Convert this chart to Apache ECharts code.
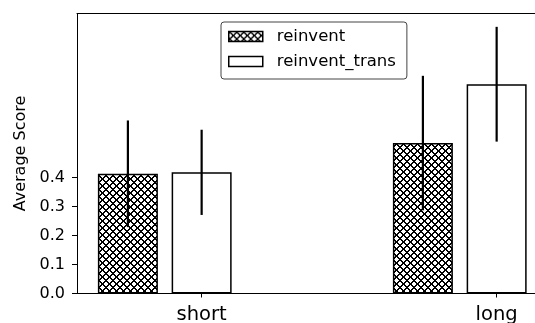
<!DOCTYPE html>
<html>
<head>
<meta charset="utf-8">
<script src="https://cdn.jsdelivr.net/npm/echarts@6/dist/echarts.min.js"></script>
<style>
  html, body { margin: 0; padding: 0; background: #fff; }
  #chart { width: 535px; height: 323px; }
</style>
</head>
<body>
<div id="chart"></div>
<script>
// Average score per prompt length, two model variants
const categories = ['short', 'long'];
const reinventMean = [0.413, 0.519];
const reinventErr = [0.184, 0.232];
const transMean = [0.418, 0.722];
const transErr = [0.147, 0.198];
const yTicks = [0.0, 0.1, 0.2, 0.3, 0.4];
const seriesNames = ['reinvent', 'reinvent_trans'];

const FONT = 'DejaVu Sans';
const BAR_OFFSET = 0.25; // reinvent bar sits left of each category tick
const X_MIN = -0.4225;
const X_MAX = 1.13;      // plot runs off the right edge of the canvas

// crisp crosshatch tile (2px diagonals both ways) for the reinvent bars
function makeHatch() {
  const n = 7;
  const c = document.createElement('canvas');
  c.width = n; c.height = n;
  const ctx = c.getContext('2d');
  const img = ctx.createImageData(n, n);
  for (let y = 0; y < n; y++) {
    for (let x = 0; x < n; x++) {
      const a = (x + y) % n;
      const b = ((x - y) % n + n) % n;
      const ink = a <= 1 || b <= 1;
      const v = ink ? 0 : 255;
      const k = (y * n + x) * 4;
      img.data[k] = v; img.data[k + 1] = v; img.data[k + 2] = v; img.data[k + 3] = 255;
    }
  }
  ctx.putImageData(img, 0, 0);
  return c;
}
const hatch = { image: makeHatch(), repeat: 'repeat' };

const reinventData = categories.map((c, i) => [i - BAR_OFFSET, reinventMean[i]]);
const transData = categories.map((c, i) => [i, transMean[i]]);
const errData = categories.map((c, i) => [i - BAR_OFFSET, reinventMean[i], reinventErr[i]])
  .concat(categories.map((c, i) => [i, transMean[i], transErr[i]]));

const yMax = Math.max(...errData.map(d => d[1] + d[2])) * 1.05;

const chart = echarts.init(document.getElementById('chart'), null, { renderer: 'canvas' });
chart.setOption({
  animation: false,
  backgroundColor: '#fff',
  textStyle: { fontFamily: FONT, color: '#000' },
  grid: { left: 77, top: 13.5, right: 0, height: 280, show: false, outerBoundsMode: 'none', containLabel: false },
  legend: {
    orient: 'vertical',
    left: 221, top: 22,
    icon: 'rect',
    itemWidth: 34, itemHeight: 10,
    itemGap: 6,
    padding: [5, 11, 8, 7],
    borderColor: '#444', borderWidth: 1, borderRadius: 3,
    backgroundColor: '#fff',
    textStyle: { fontFamily: FONT, fontSize: 16.5, color: '#000', padding: [0, 0, 0, 9], lineHeight: 19 },
    data: [
      { name: seriesNames[0], itemStyle: { color: hatch, borderColor: '#000', borderWidth: 1.5 } },
      { name: seriesNames[1], itemStyle: { color: '#fff', borderColor: '#000', borderWidth: 1.5 } }
    ]
  },
  xAxis: [
    {
      type: 'value',
      min: X_MIN, max: X_MAX,
      axisLine: { show: true, onZero: false, lineStyle: { color: '#000', width: 1 } },
      axisTick: { show: true, length: 4, lineStyle: { color: '#000' }, customValues: categories.map((c, i) => i) },
      axisLabel: {
        customValues: categories.map((c, i) => i),
        formatter: v => categories[Math.round(v)],
        fontFamily: FONT, fontSize: 19.5, color: '#000', margin: 11
      },
      splitLine: { show: false }
    },
    {
      // top frame line
      type: 'value', position: 'top',
      min: X_MIN, max: X_MAX,
      axisLine: { show: true, onZero: false, lineStyle: { color: '#000', width: 1 } },
      axisTick: { show: false },
      axisLabel: { show: false },
      splitLine: { show: false }
    }
  ],
  yAxis: {
    type: 'value',
    min: 0, max: yMax,
    name: 'Average Score',
    nameLocation: 'middle',
    nameGap: 41,
    nameTextStyle: { fontFamily: FONT, fontSize: 16, color: '#000' },
    axisLine: { show: true, onZero: false, lineStyle: { color: '#000', width: 1 } },
    axisTick: { show: true, length: 5, lineStyle: { color: '#000' }, customValues: yTicks },
    axisLabel: {
      customValues: yTicks,
      formatter: v => v.toFixed(1),
      fontFamily: FONT, fontSize: 16, color: '#000', margin: 12
    },
    splitLine: { show: false }
  },
  series: [
    {
      name: seriesNames[0], type: 'bar', data: reinventData,
      barWidth: 60, barGap: '-100%',
      itemStyle: { color: hatch, borderColor: '#000', borderWidth: 1.5 },
      emphasis: { disabled: true }
    },
    {
      name: seriesNames[1], type: 'bar', data: transData,
      barWidth: 60, barGap: '-100%',
      itemStyle: { color: '#fff', borderColor: '#000', borderWidth: 1.5 },
      emphasis: { disabled: true }
    },
    {
      name: 'err', type: 'custom', data: errData, z: 10,
      renderItem: function (params, api) {
        const x = api.value(0), m = api.value(1), e = api.value(2);
        const p1 = api.coord([x, m - e]);
        const p2 = api.coord([x, m + e]);
        return {
          type: 'line',
          shape: { x1: p1[0], y1: p1[1], x2: p2[0], y2: p2[1] },
          style: { stroke: '#000', lineWidth: 2.2 }
        };
      }
    }
  ]
});
</script>
</body>
</html>
